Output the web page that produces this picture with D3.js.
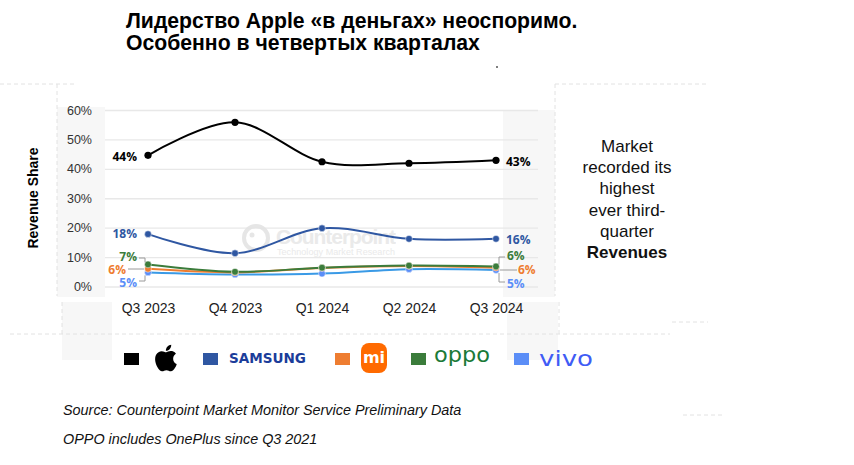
<!DOCTYPE html>
<html><head><meta charset="utf-8">
<script src="https://cdn.jsdelivr.net/npm/d3@7"></script>
<style>
html,body{margin:0;padding:0;background:#fff;}
svg{display:block;font-family:"Liberation Sans",Arial,sans-serif;}
</style></head>
<body>
<svg id="c" width="854" height="465"></svg>
<script>
const quarters = ["Q3 2023","Q4 2023","Q1 2024","Q2 2024","Q3 2024"];
const yTicks = [0,10,20,30,40,50,60];
const apple   = [44.6, 55.8, 42.4, 41.9, 42.9];
const samsung = [17.8, 11.3, 19.8, 16.2, 16.2];
const xiaomi  = [6.0, 4.8, 6.3, 7.0, 6.4];
const oppo    = [7.5, 5.0, 6.4, 7.1, 6.8];
const vivo    = [4.8, 4.1, 4.4, 5.9, 5.6];
const startLabels = {apple:"44%", samsung:"18%", oppo:"7%", xiaomi:"6%", vivo:"5%"};
const endLabels   = {apple:"43%", samsung:"16%", oppo:"6%", xiaomi:"6%", vivo:"5%"};
const brands = ["vivo","xiaomi","oppo","samsung","apple"];
const colors = {apple:"#000000", samsung:"#2f57a2", xiaomi:"#ee7d31", oppo:"#3b7c3b", vivo:"#5b8ef7"};
const lineColors = {apple:"#000000", samsung:"#2f57a2", xiaomi:"#ee7d31", oppo:"#3b7c3b", vivo:"#3a9ae6"};
const seriesData = {apple, samsung, xiaomi, oppo, vivo};

const svg = d3.select("#c");

// faint slide artefacts
const bg = svg.append("g");
[[57,107,48,190],[62,302,50,58],[503,110,52,187],[507,302,51,58]].forEach(r=>
  bg.append("rect").attr("x",r[0]).attr("y",r[1]).attr("width",r[2]).attr("height",r[3]).attr("fill","#f7f7f7"));
const dashes = [[0,84,75,84],[57,84,57,296],[62,302,62,336],[10,334,670,334],[555,84,555,296],[559,302,559,334],[555,84,708,84],[672,322,708,322],[683,415,723,415]];
dashes.forEach(d=>bg.append("line").attr("x1",d[0]).attr("y1",d[1]).attr("x2",d[2]).attr("y2",d[3])
  .attr("stroke","#e2e2e2").attr("stroke-width",1).attr("stroke-dasharray","4,3"));
svg.append("circle").attr("cx",497).attr("cy",67).attr("r",1).attr("fill","#555");

// title
const title = svg.append("text").attr("x",127).attr("font-weight","bold").attr("font-size",21.2).attr("fill","#000");
title.append("tspan").attr("x",126).attr("y",28).text("Лидерство Apple «в деньгах» неоспоримо.");
title.append("tspan").attr("x",126).attr("y",50).text("Особенно в четвертых кварталах");

// scales
const x = d3.scalePoint().domain(quarters).range([148,496]);
const y = d3.scaleLinear().domain([0,60]).range([286.5,110]);

// gridlines
const grid = svg.append("g").attr("transform","translate(105,0)")
  .call(d3.axisLeft(y).tickValues(yTicks).tickSize(-433).tickFormat(""));
grid.select(".domain").remove();
grid.selectAll("line").attr("stroke","#e8e8e8").attr("stroke-width",1.3);

// y labels
const ya = svg.append("g").attr("transform","translate(97,0)")
  .call(d3.axisLeft(y).tickValues(yTicks).tickSize(0).tickFormat(d=>d+"%"));
ya.select(".domain").remove();
ya.selectAll("text").attr("font-size",12.5).attr("fill","#333").attr("font-family","Liberation Sans,Arial,sans-serif").attr("dx","-2");

// x labels
const xa = svg.append("g").attr("transform","translate(0,297)")
  .call(d3.axisBottom(x).tickSize(0));
xa.select(".domain").remove();
xa.selectAll("text").attr("font-size",14).attr("fill","#222").attr("font-family","Liberation Sans,Arial,sans-serif").attr("dy","0.95em");

// axis title
svg.append("text").attr("transform","translate(38,198) rotate(-90)").attr("text-anchor","middle")
  .attr("font-weight","bold").attr("font-size",14).attr("fill","#000").text("Revenue Share");

// watermark
const wm = svg.append("g").attr("opacity",0.9);
wm.append("circle").attr("cx",256).attr("cy",238).attr("r",12).attr("fill","none").attr("stroke","#e4e4e4").attr("stroke-width",4);
wm.append("circle").attr("cx",252).attr("cy",235).attr("r",2.5).attr("fill","#e4e4e4");
wm.append("text").attr("x",276).attr("y",244).attr("font-size",21).attr("font-weight","bold").attr("fill","#e8e8e8")
  .attr("textLength",120).text("Counterpoint");
wm.append("text").attr("x",277).attr("y",255).attr("font-size",9).attr("fill","#e8e8e8")
  .attr("textLength",118).text("Technology Market Research");

// lines
const line = d3.line().x((d,i)=>x(quarters[i])).y(d=>y(d)).curve(d3.curveCardinal.tension(0));
brands.forEach(b=>{
  svg.append("path").datum(seriesData[b]).attr("d",line).attr("fill","none")
    .attr("stroke",lineColors[b]).attr("stroke-width",2);
});
brands.forEach(b=>{
  svg.append("g").selectAll("circle").data(seriesData[b]).join("circle")
    .attr("cx",(d,i)=>x(quarters[i])).attr("cy",d=>y(d)).attr("r",b==="apple"?3.6:3.4)
    .attr("fill",colors[b]).attr("stroke", b==="apple"?"none":"rgba(255,255,255,0.6)").attr("stroke-width",0.8);
});

// data labels
const lab = svg.append("g").attr("font-weight","bold").attr("font-size",12).attr("font-family","'Open Sans','Noto Sans',sans-serif");
const x0 = x(quarters[0]), x4 = x(quarters[4]);
function addLabel(tx, ty, text, b, anchor){
  lab.append("text").attr("x",tx).attr("y",ty).attr("dy","0.35em").attr("text-anchor",anchor).attr("fill",colors[b]).text(text);
}
addLabel(x0-11, y(apple[0])+1, startLabels.apple, "apple","end");
addLabel(x0-11, y(samsung[0]), startLabels.samsung, "samsung","end");
addLabel(x0-11, 257, startLabels.oppo, "oppo","end");
addLabel(x0-22, 270, startLabels.xiaomi, "xiaomi","end");
addLabel(x0-11, 283, startLabels.vivo, "vivo","end");
addLabel(x4+10, y(apple[4])+1, endLabels.apple, "apple","start");
addLabel(x4+10, y(samsung[4])+1, endLabels.samsung, "samsung","start");
addLabel(x4+11, 256, endLabels.oppo, "oppo","start");
addLabel(x4+22, 270, endLabels.xiaomi, "xiaomi","start");
addLabel(x4+11, 284, endLabels.vivo, "vivo","start");

// leader lines
const ld = svg.append("g").attr("fill","none").attr("stroke","#9a9a9a").attr("stroke-width",1);
ld.append("path").attr("d",`M${x0-9},258 H${x0-3} V${y(oppo[0])-2}`);
ld.append("path").attr("d",`M${x0-20},269 H${x0-4}`);
ld.append("path").attr("d",`M${x0-9},281 H${x0-3} V${y(vivo[0])+3}`);
ld.append("path").attr("d",`M${x4+9},257 H${x4+3} V${y(oppo[4])-2}`);
ld.append("path").attr("d",`M${x4+4},270 H${x4+21}`);
ld.append("path").attr("d",`M${x4+9},282 H${x4+3} V${y(vivo[4])+3}`);

// right annotation
const ann = svg.append("text").attr("text-anchor","middle").attr("font-size",17).attr("fill","#111");
const annLines = ["Market","recorded its","highest","ever third-","quarter"];
annLines.forEach((t,i)=>ann.append("tspan").attr("x",627).attr("y",152+i*21.2).text(t));
ann.append("tspan").attr("x",627).attr("y",152+5*21.2).attr("font-weight","bold").text("Revenues");

// legend
const lg = svg.append("g");
const sq = {apple:124, samsung:203, xiaomi:335, oppo:411, vivo:514};
Object.keys(sq).forEach(b=>lg.append("rect").attr("x",sq[b]).attr("y",353).attr("width",15).attr("height",12).attr("fill",colors[b]));
// apple logo
lg.append("path").attr("transform","translate(150,342) scale(1.33)")
  .attr("d","M18.71 19.5c-.83 1.24-1.71 2.45-3.05 2.47-1.34.03-1.77-.79-3.29-.79-1.53 0-2 .77-3.27.82-1.31.05-2.3-1.32-3.14-2.53C4.25 17 2.94 12.45 4.7 9.39c.87-1.52 2.430-2.48 4.12-2.51 1.28-.02 2.5.87 3.29.87.78 0 2.26-1.07 3.81-.91.65.03 2.47.26 3.64 1.98-.09.06-2.17 1.28-2.150 3.81.03 3.020 2.65 4.03 2.68 4.04-.03.07-.42 1.44-1.38 2.83M13 3.5c.73-.83 1.94-1.46 2.940-1.5.13 1.17-.34 2.35-1.04 3.19-.69.85-1.83 1.51-2.95 1.42-.15-1.15.41-2.35 1.05-3.11z")
  .attr("fill","#000");
lg.append("text").attr("x",229).attr("y",363).attr("font-size",14).attr("font-weight","bold").attr("fill","#1b3d9a")
  .attr("font-family","'DejaVu Sans',sans-serif").attr("textLength",77).attr("lengthAdjust","spacingAndGlyphs").text("SAMSUNG");
lg.append("rect").attr("x",361).attr("y",343).attr("width",26).attr("height",30).attr("rx",8).attr("fill","#ff6a00");
lg.append("text").attr("x",374).attr("y",363).attr("text-anchor","middle").attr("font-size",16).attr("font-weight","bold")
  .attr("fill","#fff").attr("font-family","'DejaVu Sans',sans-serif").text("mi");
lg.append("text").attr("x",434).attr("y",362).attr("font-size",21).attr("fill","#1b7a38")
  .attr("font-family","'DejaVu Sans',sans-serif").attr("textLength",56).attr("lengthAdjust","spacingAndGlyphs").text("oppo");
lg.append("text").attr("x",539).attr("y",366).attr("font-size",22).attr("fill","#3f5cf5")
  .attr("font-family","'DejaVu Sans',sans-serif").attr("textLength",54).attr("lengthAdjust","spacingAndGlyphs").text("vivo");

// footer
const ft = svg.append("g").attr("font-style","italic").attr("font-size",14.4).attr("fill","#111");
ft.append("text").attr("x",63).attr("y",415).text("Source: Counterpoint Market Monitor Service Preliminary Data");
ft.append("text").attr("x",63).attr("y",444).text("OPPO includes OnePlus since Q3 2021");
</script>
</body></html>
